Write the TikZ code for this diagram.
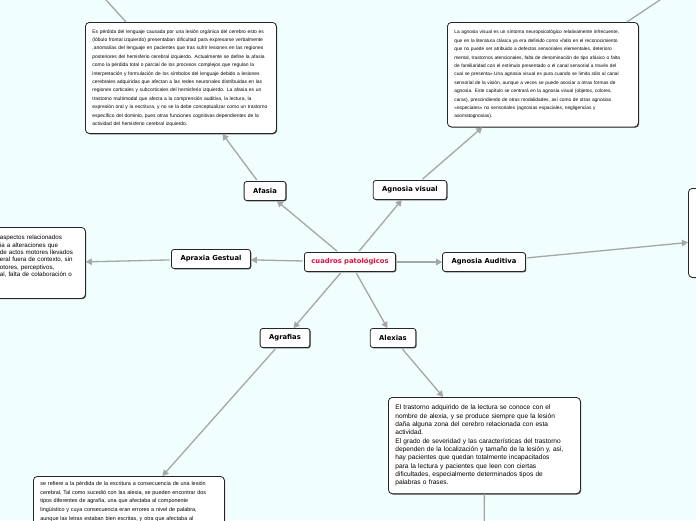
\documentclass[tikz,border=0pt]{standalone}
\usepackage{fontspec}
\setmainfont{Liberation Sans}
\newfontfamily\topicfont{DejaVu Sans}
\usetikzlibrary{arrows.meta,shadows}
\definecolor{mapbg}{RGB}{240,254,253}
\definecolor{linkgray}{RGB}{166,166,166}
\definecolor{titlered}{RGB}{214,22,64}
\tikzset{
  topicbox/.style={
    draw=black!85,
    fill=white,
    rounded corners=2.5pt,
    line width=0.8pt,
    minimum height=19pt,
    inner xsep=9pt,
    font=\topicfont\bfseries\fontsize{6.8}{8}\selectfont,
    drop shadow={shadow xshift=0.8pt, shadow yshift=-0.8pt, fill=black!70, opacity=1}
  },
  notebox/.style={
    draw=black!85,
    fill=white,
    rounded corners=4pt,
    line width=0.8pt,
    align=left,
    anchor=north west,
    text width=177pt,
    inner xsep=7pt,
    inner ysep=5pt,
    drop shadow={shadow xshift=0.8pt, shadow yshift=-0.8pt, fill=black!70, opacity=1}
  },
  linkarrow/.style={
    draw=linkgray,
    line width=1.3pt,
    shorten <=1.5pt,
    -{Triangle[length=6pt,width=6.5pt]}
  },
  linkline/.style={
    draw=linkgray,
    line width=1.3pt
  }
}

\begin{document}
\begin{tikzpicture}[x=1pt, y=-1pt]
  \useasboundingbox (0,0) rectangle (696,520);
  \clip (0,0) rectangle (696,520);
  \fill[mapbg] (0,0) rectangle (696,520);

  % topics
  \node[topicbox, text=titlered, inner xsep=7pt] (root) at (350,262) {cuadros patológicos};
  \node[topicbox] (afasia) at (265,191) {Afasia};
  \node[topicbox] (agnvis) at (410,190) {Agnosia visual};
  \node[topicbox] (apraxia) at (211,259) {Apraxia Gestual};
  \node[topicbox] (agnaud) at (484,262) {Agnosia Auditiva};
  \node[topicbox] (agrafias) at (285,338) {Agrafias};
  \node[topicbox] (alexias) at (393,338) {Alexias};

  % notes
  \node[notebox, inner ysep=7pt, font=\fontsize{4.95}{8.4}\selectfont] (afasianote) at (85,22) {%
    Es pérdida del lenguaje causada por una lesión orgánica del cerebro esto es\\
    (lóbulo frontal izquierdo) presentaban dificultad para expresarse verbalmente\\
    ,anomalías del lenguaje en pacientes que tras sufrir lesiones en las regiones\\
    posteriores del hemisferio cerebral izquierdo. Actualmente se define la afasia\\
    como la pérdida total o parcial de los procesos complejos que regulan la\\
    interpretación y formulación de los símbolos del lenguaje debido a lesiones\\
    cerebrales adquiridas que afectan a las redes neuronales distribuidas en las\\
    regiones corticales y subcorticales del hemisferio izquierdo. La afasia es un\\
    trastorno multimodal que afecta a la comprensión auditiva, la lectura, la\\
    expresión oral y la escritura, y no se la debe conceptualizar como un trastorno\\
    específico del dominio, pues otras funciones cognitivas dependientes de la\\
    actividad del hemisferio cerebral izquierdo.};
  \node[notebox, inner ysep=8pt, font=\fontsize{4.8}{8.4}\selectfont] (agnvisnote) at (447,22) {%
    La agnosia visual es un síntoma neuropsicológico relativamente infrecuente,\\
    que en la literatura clásica ya era definido como «fallo en el reconocimiento\\
    que no puede ser atribuido a defectos sensoriales elementales, deterioro\\
    mental, trastornos atencionales, falta de denominación de tipo afásico o falta\\
    de familiaridad con el estímulo presentado o el canal sensorial a través del\\
    cual se presenta».Una agnosia visual es pura cuando se limita sólo al canal\\
    sensorial de la visión, aunque a veces se puede asociar a otras formas de\\
    agnosia. Este capítulo se centrará en la agnosia visual (objetos, colores,\\
    caras), prescindiendo de otras modalidades, así como de otras agnosias\\
    «especiales» no sensoriales (agnosias espaciales, negligencias y\\
    asomatognosias).};
  \node[notebox, font=\fontsize{6.2}{7.3}\selectfont, inner xsep=6pt, inner ysep=8pt,
        text width=79.5pt] (apraxianote) at (-6.5,227) {%
    \parbox[t][55pt][t]{79.5pt}{\raggedright
    aspectos relacionados\\
    ia a alteraciones que\\
    de actos motores llevados\\
    eral fuera de contexto, sin\\
    otores, perceptivos,\\
    al, falta de colaboración o}};
  \node[notebox, text width=186pt, minimum height=89pt] (agnaudnote) at (688,188) {};
  \node[notebox, text width=178pt, inner ysep=7.5pt, font=\fontsize{6.6}{8.35}\selectfont] (alexiasnote) at (388,397) {%
    El trastorno adquirido de la lectura se conoce con el\\
    nombre de alexia, y se produce siempre que la lesión\\
    daña alguna zona del cerebro relacionada con esta\\
    actividad.\\
    El grado de severidad y las características del trastorno\\
    dependen de la localización y tamaño de la lesión y, así,\\
    hay pacientes que quedan totalmente incapacitados\\
    para la lectura y pacientes que leen con ciertas\\
    dificultades, especialmente determinados tipos de\\
    palabras o frases.};
  \node[notebox, font=\fontsize{5.45}{8.7}\selectfont] (agrafiasnote) at (33,476) {%
    se refiere a la pérdida de la escritura a consecuencia de una lesión\\
    cerebral, Tal como sucedió con las alexia, se pueden encontrar dos\\
    tipos diferentes de agrafía, una que afectaba al componente\\
    lingüístico y cuya consecuencia eran errores a nivel de palabra,\\
    aunque las letras estaban bien escritas, y otra que afectaba al};

  % free ends leaving the picture
  \coordinate (afasiaout) at (97,-10);
  \coordinate (agnvisout) at (675,-10);
  \coordinate (alexiasout) at (484,540);

  % connectors
  \draw[linkarrow] (root) -- (afasia);
  \draw[linkarrow] (root) -- (agnvis);
  \draw[linkarrow] (root) -- (apraxia);
  \draw[linkarrow] (root) -- (agnaud);
  \draw[linkarrow] (root) -- (agrafias);
  \draw[linkarrow] (root) -- (alexias);
  \draw[linkarrow] (afasia) -- (afasianote);
  \draw[linkarrow] (agnvis) -- (agnvisnote);
  \draw[linkarrow] (apraxia) -- (apraxianote);
  \draw[linkarrow] (agnaud) -- (agnaudnote);
  \draw[linkarrow] (agrafias) -- ([xshift=33.5pt]agrafiasnote.north);
  \draw[linkarrow] (alexias) -- (alexiasnote);
  \draw[linkline] ([xshift=41pt]afasianote.north west) -- (afasiaout);
  \draw[linkline] ([xshift=-12pt]agnvisnote.north east) -- (agnvisout);
  \draw[linkline] (alexiasnote.south) -- (alexiasout);
\end{tikzpicture}
\end{document}
